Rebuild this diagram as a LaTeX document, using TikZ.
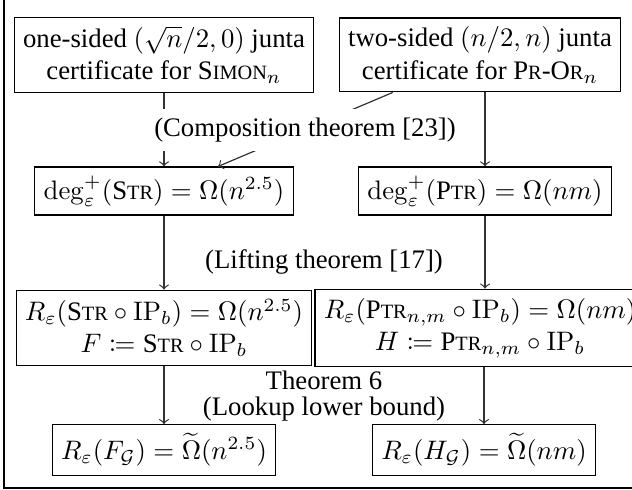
\documentclass[tikz,border=0pt]{standalone}
\usepackage{amsmath,amssymb,mathtools}
\usepackage[no-math]{fontspec}
\setmainfont{Liberation Serif}
\usetikzlibrary{calc}
\newcommand\fsc[2]{#1{\fontsize{7.6pt}{9pt}\selectfont #2}}
\begin{document}
\begin{tikzpicture}[x=0.374pt,y=-0.374pt,
  box/.style={draw, align=center, inner sep=3.3pt, line width=0.45pt},
  lbl/.style={align=center, fill=white, inner sep=3.3pt},
  arr/.style={->, line width=0.45pt, draw=black!80}]
\clip (0,0) rectangle (632,490);
\draw[line width=0.5pt] (4,-20) rectangle (660,488);
\node[box] (b1) at (164,55) {one-sided $(\sqrt{n}/2,0)$ junta\\certificate for \fsc{S}{IMON}$_n$};
\node[box] (b2) at (480,55) {two-sided $(n/2,n)$ junta\\certificate for \fsc{P}{R}-\fsc{O}{R}$_n$};
\node[box] (b3) at (164,191) {$\deg^+_\varepsilon(\text{\fsc{S}{TR}})=\Omega(n^{2.5})$};
\node[box] (b4) at (485,191) {$\deg^+_\varepsilon(\text{\fsc{P}{TR}})=\Omega(nm)$};
\node[box] (b5) at (164,328) {$R_\varepsilon(\text{\fsc{S}{TR}}\circ\mathrm{IP}_b)=\Omega(n^{2.5})$\\$F\coloneqq\text{\fsc{S}{TR}}\circ\mathrm{IP}_b$};
\node[box] (b6) at (480,328) {$R_\varepsilon(\text{\fsc{P}{TR}}_{n,m}\circ\mathrm{IP}_b)=\Omega(nm)$\\$H\coloneqq\text{\fsc{P}{TR}}_{n,m}\circ\mathrm{IP}_b$};
\node[box] (b7) at (164,450) {$R_\varepsilon(F_{\mathcal{G}})=\widetilde{\Omega}(n^{2.5})$};
\node[box] (b8) at (484,450) {$R_\varepsilon(H_{\mathcal{G}})=\widetilde{\Omega}(nm)$};
\coordinate (d1) at ($(b2.south west)+(54,0)$);
\coordinate (d2) at ($(b3.north)+(54,0)$);
\draw[arr] (b1.south) -- (b3.north);
\draw[arr] (d1) -- (d2);
\draw[arr] (b2.south -| b4.north) -- (b4.north);
\node[lbl] (comp) at (305,130) {(Composition theorem [23])};
\draw[arr] (b3) -- (b5);
\draw[arr] (b4) -- (b4 |- b6.north);
\node[lbl] (lift) at (324,262) {(Lifting theorem [17])};
\draw[arr] (b5) -- (b7);
\draw[arr] (b6.south -| b8.north) -- (b8);
\node[align=center, inner sep=0pt] (thm) at (324,396) {Theorem 6\\[-2pt](Lookup lower bound)};
\end{tikzpicture}
\end{document}
